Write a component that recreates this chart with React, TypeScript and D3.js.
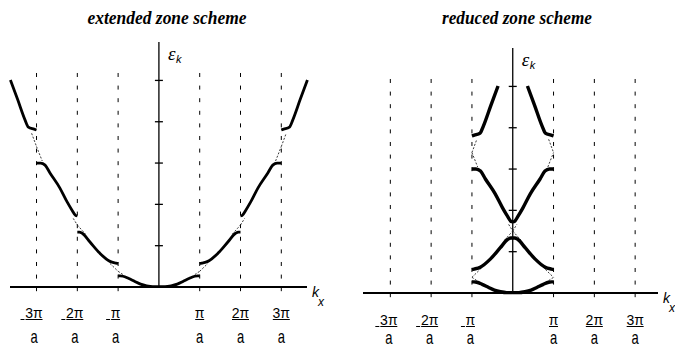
import React from "react";
import * as d3 from "d3";

// ---- data (k in units of π/a, energy in units of the axis ticks) ----
const zoneBoundaries = [-3, -2, -1, 1, 2, 3];
const tickNumerators = ["3π", "2π", "π", "π", "2π", "3π"];
const tickDenominator = "a";
const energyTicks = [1, 2, 3, 4, 5];

const band1K = [0, 0.15, 0.3, 0.45, 0.6, 0.75, 0.88, 0.95, 1.0];
const band1E = [0.01, 0.01, 0.03, 0.07, 0.14, 0.21, 0.26, 0.27, 0.27];
const band2K = [1.0, 1.05, 1.2, 1.45, 1.69, 1.88, 1.95, 2.0];
const band2E = [0.57, 0.58, 0.62, 0.82, 1.09, 1.3, 1.33, 1.33];
const band3K = [2.0, 2.04, 2.13, 2.25, 2.43, 2.67, 2.79, 2.9, 3.0];
const band3E = [1.72, 1.73, 1.86, 2.06, 2.4, 2.76, 2.95, 3.0, 3.0];
const band4K = [3.0, 3.06, 3.2, 3.28, 3.46, 3.64];
const band4E = [3.8, 3.82, 3.87, 4.04, 4.53, 5.01];

// free-electron parabola pieces drawn dashed across the gaps
const gap1LowerK = [0.88, 1.0];
const gap1LowerE = [0.3, 0.38];
const gap1UpperK = [1.0, 1.2];
const gap1UpperE = [0.38, 0.57];
const gap2LowerK = [1.8, 2.0];
const gap2LowerE = [1.28, 1.5];
const gap2UpperK = [2.0, 2.1];
const gap2UpperE = [1.5, 1.66];
const gap3LowerK = [2.86, 3.0];
const gap3LowerE = [3.05, 3.4];
const gap3UpperK = [3.0, 3.12];
const gap3UpperE = [3.4, 3.72];

type Pt = [number, number];
const zip = (k: number[], e: number[]): Pt[] => k.map((v, i) => [v, e[i]] as Pt);

const bands: Pt[][] = [
  zip(band1K, band1E),
  zip(band2K, band2E),
  zip(band3K, band3E),
  zip(band4K, band4E),
];
// reciprocal lattice shift (in π/a) that brings each band into the first zone
const bandFold = [0, 2, 2, 4];

const gaps: { pts: Pt[]; band: number }[] = [
  { pts: zip(gap1LowerK, gap1LowerE), band: 0 },
  { pts: zip(gap1UpperK, gap1UpperE), band: 1 },
  { pts: zip(gap2LowerK, gap2LowerE), band: 1 },
  { pts: zip(gap2UpperK, gap2UpperE), band: 2 },
  { pts: zip(gap3LowerK, gap3LowerE), band: 2 },
  { pts: zip(gap3UpperK, gap3UpperE), band: 3 },
];

interface PanelProps {
  title: string;
  titleX: number;
  titleWidth: number;
  xDomain: [number, number];
  xRange: [number, number];
  yRange: [number, number];
  reduced: boolean;
  numBase: number;
  denBase: number;
  negOffset: number;
  bandWidth: number;
}

function Panel(p: PanelProps) {
  const x = d3.scaleLinear().domain(p.xDomain).range(p.xRange);
  const y = d3.scaleLinear().domain([0, 5.93]).range(p.yRange);
  const line = d3
    .line<Pt>()
    .x((d) => x(d[0]))
    .y((d) => y(d[1]))
    .curve(d3.curveMonotoneX);
  const lin = d3
    .line<Pt>()
    .x((d) => x(d[0]))
    .y((d) => y(d[1]));

  const transform = (pts: Pt[], band: number, s: number): Pt[] =>
    pts
      .map(([k, e]) => [s * k - (p.reduced ? s * bandFold[band] : 0), e] as Pt)
      .sort((a, b) => a[0] - b[0]);

  const x0 = x(0);
  const yAxis = y(0);
  return (
    <g>
      <text
        x={p.titleX}
        y={24}
        textAnchor="middle"
        fontFamily="'Liberation Serif', 'Times New Roman', serif"
        fontStyle="italic"
        fontWeight="bold"
        fontSize={18}
        textLength={p.titleWidth}
        lengthAdjust="spacingAndGlyphs"
        fill="#000"
      >
        {p.title}
      </text>
      {/* zone boundary dashed lines */}
      {zoneBoundaries.map((k) => (
        <line
          key={"d" + k}
          x1={x(k)}
          x2={x(k)}
          y1={y(5.18)}
          y2={y(-0.24)}
          stroke="#000"
          strokeWidth={1}
          strokeDasharray="4,8.6"
        />
      ))}
      {/* axes */}
      <line x1={p.xRange[0]} x2={p.xRange[1]} y1={yAxis} y2={yAxis} stroke="#000" strokeWidth={2} />
      <line x1={x0} x2={x0} y1={yAxis} y2={y(5.93)} stroke="#000" strokeWidth={1.3} />
      {energyTicks.map((t) => (
        <line key={"t" + t} x1={x0 - 4} x2={x0 + 4} y1={y(t)} y2={y(t)} stroke="#000" strokeWidth={1.3} />
      ))}
      {/* dashed free-electron pieces */}
      {gaps.map((g, i) =>
        [1, -1].map((s) => (
          <path
            key={"g" + i + s}
            d={lin(transform(g.pts, g.band, s)) || ""}
            fill="none"
            stroke="#222"
            strokeWidth={0.9}
            strokeDasharray="2,1.6"
          />
        ))
      )}
      {/* bands */}
      {bands.map((b, i) =>
        [1, -1].map((s) => (
          <path
            key={"b" + i + s}
            d={line(transform(b, i, s)) || ""}
            fill="none"
            stroke="#000"
            strokeWidth={p.bandWidth}
            strokeLinejoin="round"
            strokeLinecap="butt"
          />
        ))
      )}
      {/* axis labels */}
      <text
        x={x0 + 9}
        y={y(5.93) + 18}
        fontFamily="'Liberation Serif', serif"
        fontStyle="italic"
        fontSize={19}
      >
        ε
      </text>
      <text
        x={x0 + 17}
        y={y(5.93) + 21}
        fontFamily="'Liberation Sans', sans-serif"
        fontStyle="italic"
        fontSize={11}
      >
        k
      </text>
      <text
        x={p.xRange[1] + 5}
        y={yAxis + 10}
        fontFamily="'Liberation Sans', sans-serif"
        fontStyle="italic"
        fontSize={14}
      >
        k
      </text>
      <text
        x={p.xRange[1] + 11}
        y={yAxis + 19}
        fontFamily="'Liberation Sans', sans-serif"
        fontStyle="italic"
        fontSize={12}
      >
        x
      </text>
      {/* tick labels */}
      {zoneBoundaries.map((k, i) => {
        const cx = x(k) + (k < 0 ? p.negOffset : 0);
        const num = tickNumerators[i];
        const w = num.length === 1 ? 9 : 17;
        const barY = p.numBase + 1.5;
        return (
          <g key={"l" + k} fontFamily="'Liberation Sans', Arial, sans-serif" fill="#000">
            <text x={cx} y={p.numBase} textAnchor="middle" fontSize={14}>
              {num}
            </text>
            <line x1={cx - w / 2} x2={cx + w / 2} y1={barY} y2={barY} stroke="#000" strokeWidth={1} />
            {k < 0 && (
              <line x1={cx - w / 2 - 5} x2={cx - w / 2 - 1} y1={barY} y2={barY} stroke="#000" strokeWidth={1} />
            )}
            <text
              transform={`translate(${cx},${p.denBase}) scale(1,1.35)`}
              textAnchor="middle"
              fontSize={13}
            >
              {tickDenominator}
            </text>
          </g>
        );
      })}
    </g>
  );
}

export default function App() {
  return (
    <svg
      width={675}
      height={346}
      style={{ position: "absolute", left: 0, top: 0, background: "#fff" }}
    >
      <rect width={675} height={346} fill="#fff" />
      <Panel
        title="extended zone scheme"
        titleX={167}
        titleWidth={159}
        xDomain={[-3.65, 3.63]}
        xRange={[10, 307]}
        yRange={[287, 42]}
        reduced={false}
        numBase={318}
        denBase={343}
        negOffset={-2.5}
        bandWidth={2.8}
      />
      <Panel
        title="reduced zone scheme"
        titleX={517}
        titleWidth={150}
        xDomain={[-3.67, 3.56]}
        xRange={[363, 658]}
        yRange={[293, 48]}
        reduced={true}
        numBase={325}
        denBase={344}
        negOffset={-1.5}
        bandWidth={3.4}
      />
    </svg>
  );
}
